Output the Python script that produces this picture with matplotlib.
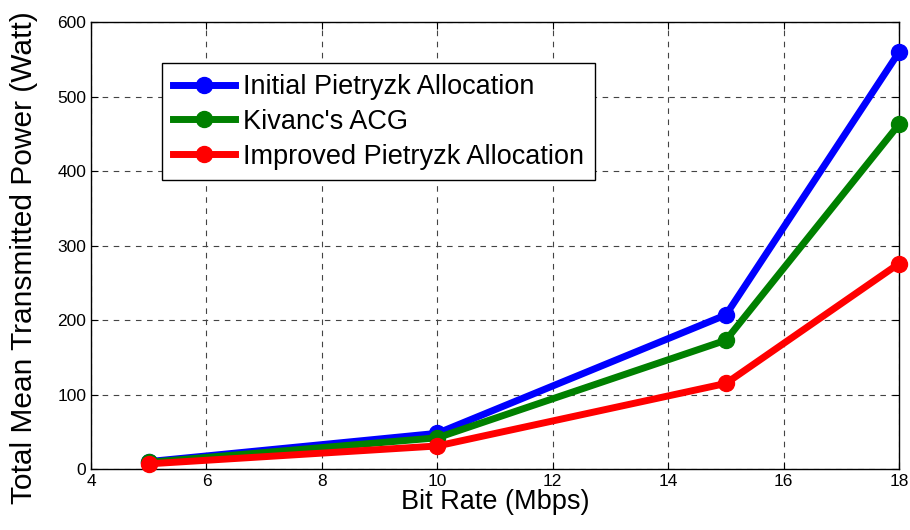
import matplotlib
matplotlib.use('Agg')
import matplotlib.pyplot as plt

plt.rcParams['font.family'] = ['Liberation Sans', 'DejaVu Sans']

# data
bit_rate = [5, 10, 15, 18]
initial_pietryzk = [10, 48, 207, 560]
kivanc_acg = [9, 42, 173, 463]
improved_pietryzk = [7, 31, 115, 276]

series = [
    ('Initial Pietryzk Allocation', initial_pietryzk, '#0000ff'),
    ("Kivanc's ACG", kivanc_acg, '#008000'),
    ('Improved Pietryzk Allocation', improved_pietryzk, '#ff0000'),
]

fig = plt.figure(figsize=(9.1, 5.3), dpi=100)
ax = fig.add_axes([0.1, 0.115, 0.888, 0.843])

for label, vals, col in series:
    ax.plot(bit_rate, vals, '-o', color=col, lw=5, ms=11.5, label=label,
            clip_on=False, zorder=3)

ax.set_xlim(4, 18)
ax.set_ylim(0, 600)
ax.set_xticks(range(4, 19, 2))
ax.set_yticks(range(0, 601, 100))
ax.grid(True, ls=(0, (5, 5)), color='#444444', lw=0.8)
ax.tick_params(direction='in', top=True, right=True, labelsize=12.5, length=5)
for sp in ax.spines.values():
    sp.set_linewidth(1.0)

ax.set_xlabel('Bit Rate (Mbps)', fontsize=19.5, labelpad=0)
ax.set_ylabel('Total Mean Transmitted Power (Watt)', fontsize=21.5)
ax.yaxis.set_label_coords(-0.066, 0.474)

leg = ax.legend(loc='upper left', bbox_to_anchor=(0.088, 0.908),
                borderaxespad=0, fontsize=19.5, fancybox=False,
                edgecolor='black', framealpha=1, handlelength=2.3,
                labelspacing=0.32, handletextpad=0.3, borderpad=0.4)
leg.get_frame().set_linewidth(1.0)

fig.savefig('out.png', dpi=100)
